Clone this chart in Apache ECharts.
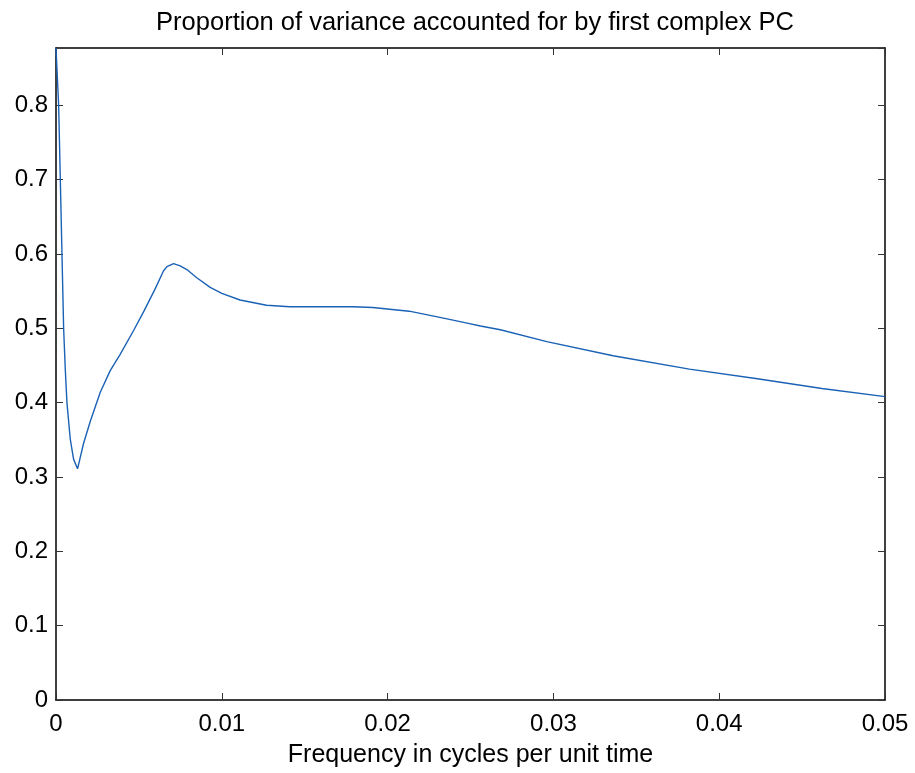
<!DOCTYPE html>
<html>
<head>
<meta charset="utf-8">
<script src="https://cdn.jsdelivr.net/npm/echarts@6/dist/echarts.min.js"></script>
<style>
  html, body { margin: 0; padding: 0; background: #ffffff; }
  #chart { width: 915px; height: 773px; }
</style>
</head>
<body>
<div id="chart"></div>
<script>
// Frequency grid (cycles per unit time)
const freq = [
  0, 0.00016, 0.00026, 0.00036, 0.00046, 0.00056, 0.00066, 0.00086, 0.00106, 0.0013,
  0.00166, 0.00207, 0.00267, 0.00327, 0.00387, 0.00468, 0.00528, 0.00598,
  0.00648, 0.00669, 0.00709, 0.00749, 0.00789, 0.00849, 0.0093, 0.0100,
  0.0111, 0.0127, 0.0141, 0.0157, 0.0179, 0.0191, 0.0213, 0.0233, 0.0248,
  0.0256, 0.0268, 0.0296, 0.0336, 0.0382, 0.0422, 0.0462, 0.05
];
// Proportion of variance explained by the leading complex PC
const propVar = [
  0.877, 0.80, 0.70, 0.60, 0.50, 0.445, 0.400, 0.351, 0.324, 0.311,
  0.345, 0.375, 0.414, 0.443, 0.465, 0.497, 0.522, 0.553,
  0.577, 0.583, 0.587, 0.584, 0.579, 0.568, 0.555, 0.547,
  0.538, 0.531, 0.529, 0.529, 0.529, 0.528, 0.523, 0.514, 0.507,
  0.503, 0.498, 0.482, 0.463, 0.445, 0.4325, 0.419, 0.408
];
const xTicks = [0, 0.01, 0.02, 0.03, 0.04, 0.05];
const yTicks = [0, 0.1, 0.2, 0.3, 0.4, 0.5, 0.6, 0.7, 0.8];

const FONT = '"Liberation Sans", Arial, Helvetica, sans-serif';
const yMax = 0.877;

const chart = echarts.init(document.getElementById('chart'));

const tickStyle = { show: true, inside: true, length: 7, lineStyle: { color: '#333', width: 1 } };
const lineStyle = { show: true, onZero: false, lineStyle: { color: '#000', width: 1.5 } };

chart.setOption({
  animation: false,
  backgroundColor: '#ffffff',
  title: {
    text: 'Proportion of variance accounted for by first complex PC',
    left: 470,
    textAlign: 'center',
    top: 5,
    textStyle: { fontFamily: FONT, fontSize: 25.5, fontWeight: 'normal', color: '#000' }
  },
  grid: { left: 56, right: 30, top: 48, bottom: 71, containLabel: false },
  xAxis: [
    {
      type: 'value', min: 0, max: 0.05, interval: 0.01,
      name: 'Frequency in cycles per unit time',
      nameLocation: 'middle', nameGap: 43,
      nameTextStyle: { fontFamily: FONT, fontSize: 25, color: '#000' },
      axisLine: lineStyle, axisTick: tickStyle,
      axisLabel: {
        fontFamily: FONT, fontSize: 24, color: '#000', margin: 12,
        formatter: v => xTicks.some(t => Math.abs(t - v) < 1e-9) ? String(+v.toFixed(2)) : ''
      },
      splitLine: { show: false }
    },
    {
      type: 'value', position: 'top', min: 0, max: 0.05, interval: 0.01,
      axisLine: lineStyle, axisTick: tickStyle,
      axisLabel: { show: false }, splitLine: { show: false }
    }
  ],
  yAxis: [
    {
      type: 'value', min: 0, max: yMax, interval: 0.1,
      axisLine: lineStyle, axisTick: tickStyle,
      axisLabel: {
        fontFamily: FONT, fontSize: 24, color: '#000', margin: 8, showMaxLabel: false,
        formatter: v => yTicks.some(t => Math.abs(t - v) < 1e-9) ? String(+v.toFixed(1)) : ''
      },
      splitLine: { show: false }
    },
    {
      type: 'value', position: 'right', min: 0, max: yMax, interval: 0.1,
      axisLine: lineStyle, axisTick: tickStyle,
      axisLabel: { show: false }, splitLine: { show: false }
    }
  ],
  series: [
    {
      type: 'line',
      data: freq.map((f, i) => [f, propVar[i]]),
      showSymbol: false,
      smooth: false,
      clip: true,
      lineStyle: { color: '#1a62b5', width: 1.4 }
    }
  ]
});
</script>
</body>
</html>
